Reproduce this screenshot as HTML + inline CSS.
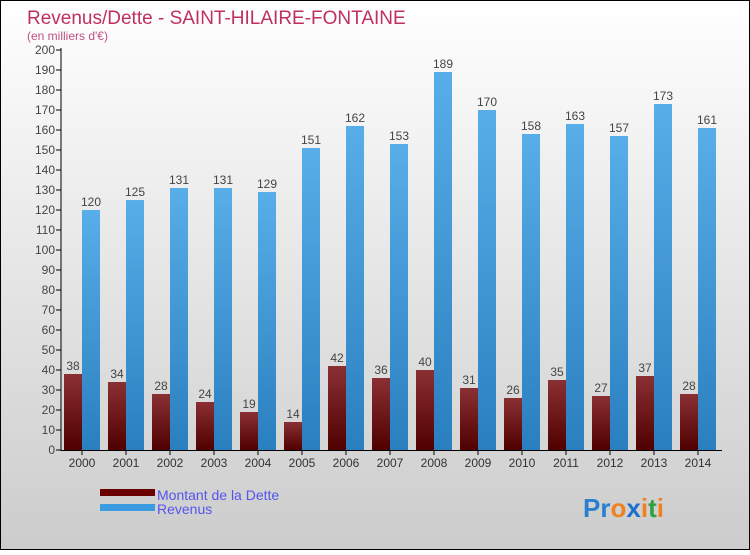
<!DOCTYPE html>
<html><head><meta charset="utf-8"><style>
html,body{margin:0;padding:0}
body{width:750px;height:550px;overflow:hidden;font-family:"Liberation Sans",sans-serif}
</style></head><body>
<svg width="750" height="550" xmlns="http://www.w3.org/2000/svg" font-family="Liberation Sans, sans-serif">
<defs>
<linearGradient id="bg" x1="0" y1="0" x2="0" y2="1"><stop offset="0" stop-color="#ffffff"/><stop offset="1" stop-color="#cccccc"/></linearGradient>
<linearGradient id="gd" x1="0" y1="0" x2="0" y2="1"><stop offset="0" stop-color="#8a3034"/><stop offset="1" stop-color="#500000"/></linearGradient>
<linearGradient id="gr" x1="0" y1="0" x2="0" y2="1"><stop offset="0" stop-color="#58aee8"/><stop offset="1" stop-color="#2a7fbf"/></linearGradient>
</defs>
<rect x="0.5" y="0.5" width="749" height="549" fill="url(#bg)" stroke="#000"/>
<text x="27" y="24" font-size="19" fill="#c0305f">Revenus/Dette - SAINT-HILAIRE-FONTAINE</text>
<text x="27" y="40" font-size="12" fill="#c0507f">(en milliers d'€)</text>
<g id="plot"></g>
<g>
<rect x="100" y="489" width="55" height="7" fill="#6a0000"/>
<text x="157" y="500" font-size="14" fill="#5555ee">Montant de la Dette</text>
<rect x="100" y="504" width="55" height="7" fill="#3a9be0"/>
<text x="157" y="514" font-size="14" fill="#5555ee">Revenus</text>
</g>
<text x="583" y="517" font-size="26" font-weight="bold"><tspan fill="#2a7fcf">Pr</tspan><tspan fill="#f08020">o</tspan><tspan fill="#1a6fcf">x</tspan><tspan fill="#f08020">i</tspan><tspan fill="#30a040">t</tspan><tspan fill="#f08020">i</tspan></text>
</svg>
<script>
const years=["2000","2001","2002","2003","2004","2005","2006","2007","2008","2009","2010","2011","2012","2013","2014"];
const dette=[38,34,28,24,19,14,42,36,40,31,26,35,27,37,28];
const revenus=[120,125,131,131,129,151,162,153,189,170,158,163,157,173,161];
const yTicks=[0,10,20,30,40,50,60,70,80,90,100,110,120,130,140,150,160,170,180,190,200];
const NS="http://www.w3.org/2000/svg";
const g=document.getElementById('plot');
const y=v=>450-v*2;
const x=i=>64+i*44;
function mk(t,a,p){const e=document.createElementNS(NS,t);for(const k in a)e.setAttribute(k,a[k]);(p||g).appendChild(e);return e;}
yTicks.forEach(v=>{
 const l=mk('line',{x1:56,x2:61,y1:y(v),y2:y(v),stroke:'#000'});
 
 
 const t=mk('text',{x:55,y:y(v)+4,'text-anchor':'end','font-size':12,fill:'#444'});
 t.textContent=v;
 
 
});
years.forEach((yr,i)=>{
 const b1=mk('rect',{x:x(i),y:y(dette[i]),width:18,height:dette[i]*2,fill:'url(#gd)'});
 
 
 const b2=mk('rect',{x:x(i)+18,y:y(revenus[i]),width:18,height:revenus[i]*2,fill:'url(#gr)'});
 
 
 const t1=mk('text',{x:x(i)+9,y:y(dette[i])-4,'text-anchor':'middle','font-size':12,fill:'#444'});
 t1.textContent=dette[i];
 
 
 const t2=mk('text',{x:x(i)+27,y:y(revenus[i])-4,'text-anchor':'middle','font-size':12,fill:'#444'});
 t2.textContent=revenus[i];
 
 
 const tk=mk('line',{x1:x(i)+18,x2:x(i)+18,y1:450,y2:455,stroke:'#000'});
 
 
 const xl=mk('text',{x:x(i)+18,y:467,'text-anchor':'middle','font-size':12,fill:'#333'});
 xl.textContent=yr;
 
 
});
const ya=mk('line',{x1:61,x2:61,y1:48,y2:451,stroke:'#000'});


const xa=mk('line',{x1:61,x2:722,y1:450.5,y2:450.5,stroke:'#000'});


</script>
</body></html>
